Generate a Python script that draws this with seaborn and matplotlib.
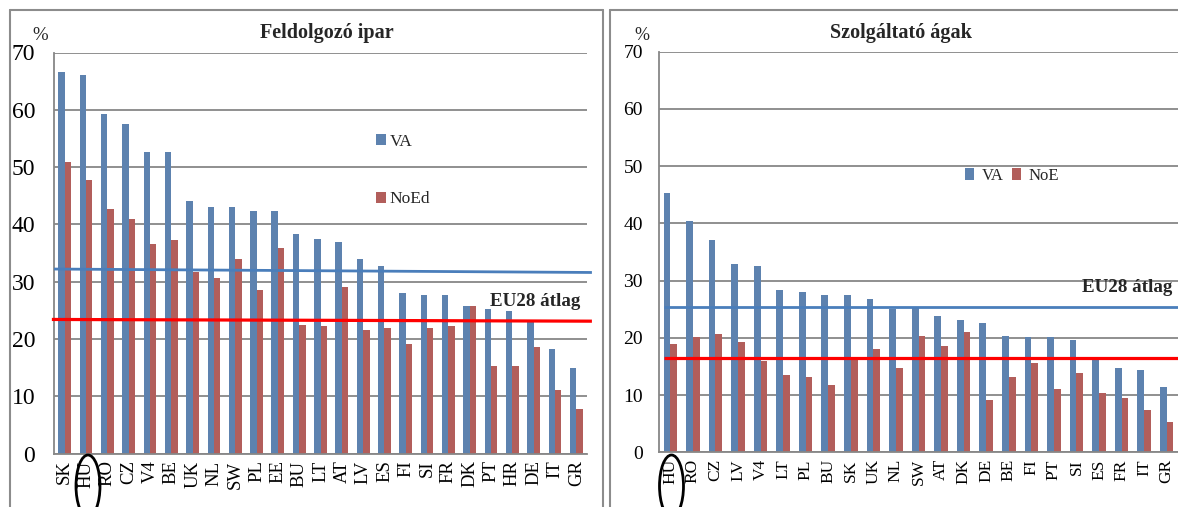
import numpy as np
import pandas as pd
import matplotlib
matplotlib.use("Agg")
import matplotlib.pyplot as plt
import seaborn as sns
from matplotlib.patches import Ellipse
from matplotlib.lines import Line2D

# --- Feldolgozó ipar (manufacturing) ---
mfg_countries = ["SK", "HU", "RO", "CZ", "V4", "BE", "UK", "NL", "SW", "PL", "EE", "BU", "LT",
                 "AT", "LV", "ES", "FI", "SI", "FR", "DK", "PT", "HR", "DE", "IT", "GR"]
mfg_va = [66.6, 66.0, 59.3, 57.5, 52.6, 52.6, 44.1, 43.0, 43.0, 42.4, 42.4, 38.4, 37.5,
          37.0, 34.0, 32.8, 28.0, 27.7, 27.7, 25.8, 25.2, 24.9, 23.0, 18.3, 15.0]
mfg_noe = [50.8, 47.8, 42.7, 40.9, 36.6, 37.2, 31.6, 30.7, 34.0, 28.6, 35.9, 22.5, 22.2,
           29.1, 21.6, 21.9, 19.2, 21.9, 22.2, 25.8, 15.3, 15.3, 18.6, 11.0, 7.7]
mfg_avg_va = [32.2, 31.6]     # EU28 average, start / end of the drawn line
mfg_avg_noe = [23.4, 23.1]
mfg_series = ["VA", "NoEd"]

# --- Szolgáltató ágak (services) ---
svc_countries = ["HU", "RO", "CZ", "LV", "V4", "LT", "PL", "BU", "SK", "UK", "NL", "SW",
                 "AT", "DK", "DE", "BE", "FI", "PT", "SI", "ES", "FR", "IT", "GR"]
svc_va = [45.3, 40.5, 37.1, 32.9, 32.6, 28.3, 28.0, 27.4, 27.4, 26.8, 25.0, 25.2,
          23.8, 23.2, 22.6, 20.4, 20.1, 20.1, 19.6, 16.6, 14.7, 14.4, 11.4]
svc_noe = [18.9, 20.1, 20.7, 19.2, 15.9, 13.5, 13.2, 11.7, 16.5, 18.0, 14.7, 20.4,
           18.6, 21.0, 9.2, 13.2, 15.6, 11.1, 13.8, 10.4, 9.5, 7.4, 5.3]
svc_avg_va = [25.4, 25.4]
svc_avg_noe = [16.5, 16.5]
svc_series = ["VA", "NoE"]

BLUE = "#4F81BD"
RED = "#C0504D"
AVG_BLUE = "#4A7EBB"
AVG_RED = "#FF0000"
GRID = "#878787"

sns.set_style("white")
plt.rcParams["font.family"] = ["Liberation Serif", "DejaVu Serif"]

W, H = 1178, 507
fig = plt.figure(figsize=(W / 100, H / 100), dpi=100)


def fx(px):
    return px / W


def fy(py):
    return 1 - py / H


def long_frame(countries, va, noe, names):
    return pd.DataFrame({
        "country": countries * 2,
        "series": [names[0]] * len(countries) + [names[1]] * len(countries),
        "value": list(va) + list(noe),
    })


def draw_panel(ax, countries, va, noe, names, ytick_size, xtick_size, ypad):
    df = long_frame(countries, va, noe, names)
    sns.barplot(data=df, x="country", y="value", hue="series", order=countries,
                hue_order=names, palette=[BLUE, RED], width=0.6, linewidth=0,
                ax=ax, legend=True)
    n = len(countries)
    ax.set_xlim(-0.5, n - 0.5)
    ax.set_ylim(0, 70)
    ax.set_yticks(np.arange(0, 71, 10))
    ax.set_xlabel("")
    ax.set_ylabel("")
    ax.set_axisbelow(True)
    ax.yaxis.grid(True, color=GRID, linewidth=1.3)
    ax.xaxis.grid(False)
    for side in ("top", "right"):
        ax.spines[side].set_visible(False)
    for side in ("left", "bottom"):
        ax.spines[side].set_color(GRID)
        ax.spines[side].set_linewidth(1.3)
    ax.set_xticks(np.arange(n + 1) - 0.5, minor=True)
    ax.tick_params(axis="x", which="major", length=0, pad=5, labelsize=xtick_size,
                   labelrotation=90, labelcolor="black")
    ax.tick_params(axis="x", which="minor", length=5, width=1.3, color=GRID, direction="out")
    ax.tick_params(axis="y", which="major", length=4, width=1.3, color=GRID,
                   direction="out", labelsize=ytick_size, pad=ypad, labelcolor="black")
    return ax


# Left panel
ax1 = fig.add_axes([fx(54), fy(453.5), fx(533), 401 / H])
draw_panel(ax1, mfg_countries, mfg_va, mfg_noe, mfg_series, 17, 13.5, 9.5)
ax1.plot([-0.5, len(mfg_countries) - 0.27], mfg_avg_va, color=AVG_BLUE, lw=2.0,
         clip_on=False, zorder=6, solid_capstyle="butt")
ax1.plot([-0.6, len(mfg_countries) - 0.27], mfg_avg_noe, color=AVG_RED, lw=2.3,
         clip_on=False, zorder=6, solid_capstyle="butt")
h1, l1 = ax1.get_legend_handles_labels()
ax1.legend(h1, l1, loc="center left", bbox_to_anchor=(fx(376), fy(170.5)),
           bbox_transform=fig.transFigure, frameon=False, fontsize=12.5,
           handlelength=0.6, handleheight=0.6, handletextpad=0.2,
           labelspacing=2.4, borderpad=0, borderaxespad=0)

# Right panel
ax2 = fig.add_axes([fx(659), fy(452.3), 1 - fx(659), 400.6 / H])
draw_panel(ax2, svc_countries, svc_va, svc_noe, svc_series, 14, 12.5, 7.5)
ax2.plot([-0.28, len(svc_countries) + 0.5], svc_avg_va, color=AVG_BLUE, lw=2.0,
         clip_on=False, zorder=6, solid_capstyle="butt")
ax2.plot([-0.28, len(svc_countries) + 0.5], svc_avg_noe, color=AVG_RED, lw=2.3,
         clip_on=False, zorder=6, solid_capstyle="butt")
h2, l2 = ax2.get_legend_handles_labels()
ax2.legend(h2, l2, loc="center left", bbox_to_anchor=(fx(965), fy(175.5)),
           bbox_transform=fig.transFigure, frameon=False, fontsize=12, ncol=2,
           handlelength=0.55, handleheight=0.7, handletextpad=0.45,
           columnspacing=0.5, borderpad=0, borderaxespad=0)

# Titles, unit marks and average labels
fig.text(fx(327), fy(33), "Feldolgozó ipar", ha="center", va="center",
         fontsize=14.5, fontweight="bold")
fig.text(fx(901), fy(33), "Szolgáltató ágak", ha="center", va="center",
         fontsize=14.5, fontweight="bold")
fig.text(fx(40.5), fy(35), "%", ha="center", va="center", fontsize=13.5)
fig.text(fx(642), fy(35), "%", ha="center", va="center", fontsize=13)
fig.text(fx(490), fy(301.5), "EU28 átlag", ha="left", va="center",
         fontsize=13.7, fontweight="bold")
fig.text(fx(1082), fy(288), "EU28 átlag", ha="left", va="center",
         fontsize=13.7, fontweight="bold")

# Panel frames
BORDER = "#8C8C8C"
for seg in [((10, 10), (10, 520)), ((10, 10), (603, 10)), ((603, 10), (603, 520)),
            ((610, 10), (610, 520)), ((610, 10), (1190, 10))]:
    (x0, y0), (x1, y1) = seg
    fig.add_artist(Line2D([fx(x0), fx(x1)], [fy(y0), fy(y1)], color=BORDER, lw=1.5,
                          transform=fig.transFigure))

# Hungary highlighted on both category axes
for cx in (88, 671.5):
    fig.add_artist(Ellipse((fx(cx), fy(486)), width=fx(24), height=62 / H,
                           transform=fig.transFigure, fill=False,
                           edgecolor="black", lw=2.0))

fig.savefig("out.png", dpi=100)
